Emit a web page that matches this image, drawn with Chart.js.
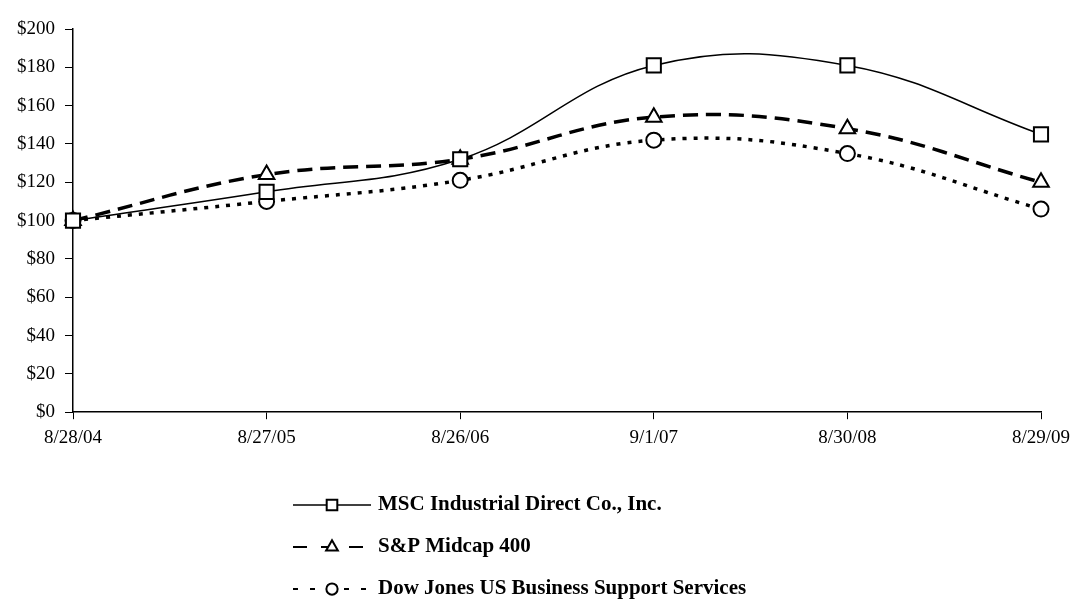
<!DOCTYPE html>
<html>
<head>
<meta charset="utf-8">
<script src="https://cdn.jsdelivr.net/npm/chart.js@4/dist/chart.umd.min.js"></script>
<style>
  body { margin: 0; background: #fff; }
  canvas { display: block; }
</style>
</head>
<body>
<canvas id="perfChart" width="1078" height="609"></canvas>
<script>
// data
var dates = ["8/28/04", "8/27/05", "8/26/06", "9/1/07", "8/30/08", "8/29/09"];
var mscValues = [100, 115, 132, 181, 181, 145];
var spValues = [100, 124, 132, 154, 148, 120];
var djValues = [100, 110, 121, 142, 135, 106];
var seriesNames = ["MSC Industrial Direct Co., Inc.", "S&P Midcap 400", "Dow Jones US Business Support Services"];

var serif = "'Liberation Serif', 'Times New Roman', serif";

// legend sample strokes (thinner than the plotted lines, like the original)
var legendDash = [[], [14, 14], [5, 12]];
var legendWidth = [1.5, 2, 2];

/**
 * Legend in the Excel style: line sample + marker + bold label, stacked under the chart
 */
var lineLegend = {
  id: "lineLegend",
  afterDraw: function(chart) {
    var ctx = chart.ctx;
    var rows = [505, 547, 589];
    chart.data.datasets.forEach(function(ds, i) {
      var y = rows[i];
      ctx.save();
      ctx.strokeStyle = "#000";
      ctx.lineWidth = legendWidth[i];
      ctx.setLineDash(legendDash[i]);
      ctx.beginPath();
      ctx.moveTo(293, y);
      ctx.lineTo(371, y);
      ctx.stroke();
      ctx.setLineDash([]);
      ctx.fillStyle = "#fff";
      ctx.strokeStyle = "#000";
      ctx.lineWidth = 2;
      Chart.helpers.drawPoint(ctx, {
        pointStyle: ds.pointStyle,
        radius: ds.pointRadius * 0.75,
        borderWidth: 2
      }, 332, y);
      ctx.fillStyle = "#000";
      ctx.font = "bold 21px " + serif;
      ctx.textBaseline = "middle";
      ctx.fillText(ds.label, 378, y);
      ctx.restore();
    });
  }
};

function makeSet(name, values, style, radius, width, dash) {
  return {
    label: name,
    data: values,
    borderColor: "#000",
    borderWidth: width,
    borderDash: dash,
    pointStyle: style,
    pointRadius: radius,
    pointBorderWidth: 2,
    pointBackgroundColor: "#fff",
    pointBorderColor: "#000",
    fill: false,
    tension: 0.4
  };
}

var ctxLine = document.getElementById("perfChart").getContext("2d");
var configLine = {
  type: "line",
  data: {
    labels: dates,
    datasets: [
      makeSet(seriesNames[0], mscValues, "rect", 10, 1.5, []),
      makeSet(seriesNames[1], spValues, "triangle", 9, 3.5, [15, 8]),
      makeSet(seriesNames[2], djValues, "circle", 7.5, 3.5, [4, 7])
    ]
  },
  options: {
    responsive: false,
    animation: false,
    layout: { padding: { left: 7, right: 37, top: 29, bottom: 153 } },
    plugins: { legend: { display: false }, tooltip: { enabled: false } },
    scales: {
      x: {
        offset: false,
        grid: { drawOnChartArea: false, color: "#000", tickLength: 7 },
        border: { color: "#000", width: 1.5 },
        ticks: { color: "#000", font: { family: serif, size: 19 }, padding: 7, maxRotation: 0, autoSkip: false }
      },
      y: {
        min: 0,
        max: 200,
        grid: { drawOnChartArea: false, color: "#000", tickLength: 8 },
        border: { color: "#000", width: 1.5 },
        ticks: {
          stepSize: 20,
          color: "#000",
          font: { family: serif, size: 19 },
          padding: 10,
          callback: function(v) { return "$" + v; }
        }
      }
    }
  },
  plugins: [lineLegend]
};
var lineChart = new Chart(ctxLine, configLine);
</script>
</body>
</html>
